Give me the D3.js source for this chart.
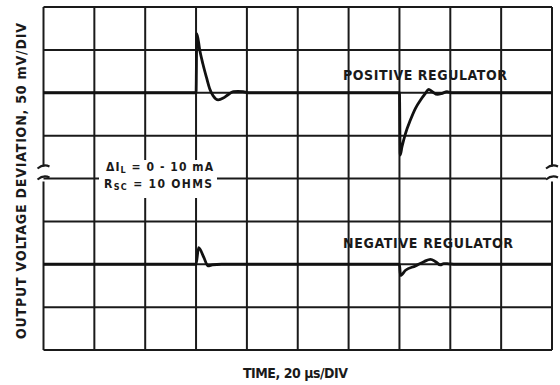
<!DOCTYPE html>
<html>
<head>
<meta charset="utf-8">
<script src="https://cdn.jsdelivr.net/npm/d3@7"></script>
<style>
  html, body { margin: 0; padding: 0; background: #fff; }
  svg { display: block; }
  .lbl { font-family: "DejaVu Sans Condensed", "Liberation Sans Narrow", "DejaVu Sans", sans-serif; font-stretch: condensed; font-weight: bold; fill: #1a1a1a; }
</style>
</head>
<body>
<div id="chart"></div>
<script>
// time grid (us) and deviation grid (mV) per half of the broken axis
const timeGrid = [0, 20, 40, 60, 80, 100, 120, 140, 160, 180, 200];
const mvGrid = [-100, -50, 0, 50, 100];

// [time us, deviation mV]
const positiveRegulator = [
  [0, 0], [60, 0], [60.3, 69], [61.5, 49], [62.7, 33.5], [64.1, 17.8], [65.4, 4.3],
  [66.7, -3.5], [68.7, -8.2], [70.7, -6.2], [72.6, -2.3], [74.6, 1.2], [76.5, 1.5],
  [78.5, 1.2], [80.5, 0], [140, 0], [140.3, -72.7], [141, -63], [142.4, -47.3],
  [144.3, -31.9], [146.3, -18.2], [148.3, -8.5], [150.2, -0.7], [151.5, 4],
  [152.8, 1.5], [155, -2], [156.8, -0.7], [158.7, 1.2], [160.5, 0], [200, 0]
];
const negativeRegulator = [
  [0, 0], [60, 0], [61, 19.5], [63.1, 7.7], [64.7, -2], [66.4, -0.8], [70, 0],
  [140, 0], [140.4, -13], [142.4, -7], [146.3, -2], [149.6, 3], [152.2, 5.8],
  [154.2, 3], [156.1, -0.8], [157.4, 0.8], [159.4, 0.5], [162, 0], [200, 0]
];

const width = 560, height = 385;
const plot = { left: 43.5, right: 552, top: 7, bottom: 350 };
const mid = (plot.top + plot.bottom) / 2;

const svg = d3.select("#chart").append("svg")
  .attr("width", width)
  .attr("height", height);

const x = d3.scaleLinear().domain([0, 200]).range([plot.left, plot.right]);
const yTop = d3.scaleLinear().domain([-100, 100]).range([mid, plot.top]);
const yBot = d3.scaleLinear().domain([-100, 100]).range([plot.bottom, mid]);

const ink = "#1a1a1a";
const grid = svg.append("g").attr("stroke", ink).attr("stroke-width", 2).attr("fill", "none");

// vertical grid lines (inner)
grid.selectAll(".v")
  .data(timeGrid.slice(1, -1))
  .join("line")
  .attr("x1", d => x(d)).attr("x2", d => x(d))
  .attr("y1", plot.top).attr("y2", plot.bottom);

// horizontal grid lines, both halves
const hLines = mvGrid.slice(0, -1).map(v => yTop(v)).concat(mvGrid.slice(1, -1).map(v => yBot(v)));
grid.selectAll(".h")
  .data(hLines)
  .join("line")
  .attr("x1", plot.left).attr("x2", d => d === mid ? plot.right - 6 : plot.right)
  .attr("y1", d => d).attr("y2", d => d);

// frame top & bottom
grid.append("line").attr("x1", plot.left).attr("x2", plot.right).attr("y1", plot.top).attr("y2", plot.top);
grid.append("line").attr("x1", plot.left).attr("x2", plot.right).attr("y1", plot.bottom).attr("y2", plot.bottom);

// left/right borders with axis-break marks
[plot.left, plot.right].forEach(bx => {
  grid.append("line").attr("x1", bx).attr("x2", bx).attr("y1", plot.top).attr("y2", mid - 12);
  grid.append("line").attr("x1", bx).attr("x2", bx).attr("y1", mid + 3).attr("y2", plot.bottom);
  grid.append("path").attr("d", `M${bx - 6},${mid - 10} Q${bx},${mid - 15} ${bx + 6},${mid - 12}`);
  grid.append("path").attr("d", `M${bx - 6},${mid + 1} Q${bx},${mid - 4} ${bx + 6},${mid - 1}`);
});

// white patch behind the condition note
svg.append("rect")
  .attr("x", 99).attr("y", 160).attr("width", 118).attr("height", 38)
  .attr("fill", "#fff");

const note = svg.append("g").attr("class", "lbl").attr("font-size", 12);
const n1 = note.append("text").attr("x", 106).attr("y", 171).attr("textLength", 107).attr("lengthAdjust", "spacing");
n1.append("tspan").text("ΔI");
n1.append("tspan").attr("font-size", 9).attr("dy", 2).text("L");
n1.append("tspan").attr("dy", -2).text(" = 0 - 10 mA");
const n2 = note.append("text").attr("x", 104).attr("y", 188).attr("textLength", 108).attr("lengthAdjust", "spacing");
n2.append("tspan").text("R");
n2.append("tspan").attr("font-size", 9).attr("dy", 2).text("SC");
n2.append("tspan").attr("dy", -2).text(" = 10 OHMS");

// traces
const linePos = d3.line().x(d => x(d[0])).y(d => yTop(d[1])).curve(d3.curveMonotoneX);
const lineNeg = d3.line().x(d => x(d[0])).y(d => yBot(d[1])).curve(d3.curveMonotoneX);

svg.append("path").datum(positiveRegulator)
  .attr("d", linePos).attr("fill", "none").attr("stroke", "#111")
  .attr("stroke-width", 2.8).attr("stroke-linejoin", "round");
svg.append("path").datum(negativeRegulator)
  .attr("d", lineNeg).attr("fill", "none").attr("stroke", "#111")
  .attr("stroke-width", 2.8).attr("stroke-linejoin", "round");

// labels
svg.append("text").attr("class", "lbl").attr("font-size", 14)
  .attr("x", 343).attr("y", 80).attr("textLength", 164).attr("lengthAdjust", "spacing")
  .text("POSITIVE REGULATOR");
svg.append("text").attr("class", "lbl").attr("font-size", 14)
  .attr("x", 343).attr("y", 248).attr("textLength", 170).attr("lengthAdjust", "spacing")
  .text("NEGATIVE REGULATOR");
svg.append("text").attr("class", "lbl").attr("font-size", 14)
  .attr("x", 243).attr("y", 378).attr("textLength", 105).attr("lengthAdjust", "spacing")
  .text("TIME, 20 μs/DIV");
svg.append("text").attr("class", "lbl").attr("font-size", 14)
  .attr("transform", `translate(26, 181) rotate(-90)`)
  .attr("text-anchor", "middle").attr("textLength", 316).attr("lengthAdjust", "spacing")
  .text("OUTPUT VOLTAGE DEVIATION, 50 mV/DIV");
</script>
</body>
</html>
